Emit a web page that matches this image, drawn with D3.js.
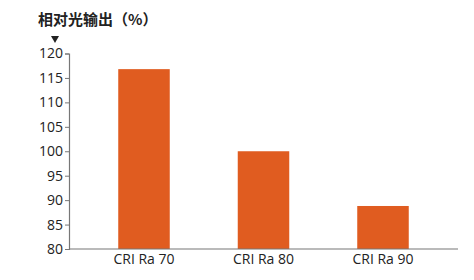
<!DOCTYPE html>
<html>
<head>
<meta charset="utf-8">
<script src="https://cdn.jsdelivr.net/npm/d3@7"></script>
<style>
  body { margin: 0; background: #fff; }
  svg text { font-family: "Open Sans", "Noto Sans", sans-serif; fill: #222; }
</style>
</head>
<body>
<div id="chart"></div>
<script>
const categories = ['CRI Ra 70', 'CRI Ra 80', 'CRI Ra 90'];
const values = [116.8, 100, 88.8];
const yTicks = [80, 85, 90, 95, 100, 105, 110, 115, 120];
const title = '相对光输出（%）';

const width = 474;
const height = 280;
const axisX = 69;
const axisY = 249;

const svg = d3.select('#chart').append('svg')
  .attr('width', width)
  .attr('height', height);

const y = d3.scaleLinear().domain([80, 120]).range([axisY, 53.5]);
const x = d3.scaleBand().domain(categories)
  .range([84.25, 442.75])
  .paddingInner(0.569)
  .paddingOuter(0.2845);

// bars
svg.append('g').selectAll('rect')
  .data(values)
  .join('rect')
  .attr('x', (d, i) => x(categories[i]))
  .attr('y', (d) => y(d))
  .attr('width', x.bandwidth())
  .attr('height', (d) => axisY - y(d))
  .attr('fill', '#E05C20');

// y axis
const yAxis = svg.append('g')
  .attr('transform', `translate(${axisX},0)`)
  .call(d3.axisLeft(y).tickValues(yTicks).tickSize(4).tickPadding(2));
yAxis.select('.domain').attr('stroke', '#777').attr('stroke-width', 1.2);
yAxis.selectAll('.tick line').attr('stroke', '#777');
yAxis.selectAll('.tick text').attr('font-size', 14).style('fill', '#222');

// x axis line
svg.append('line')
  .attr('x1', axisX).attr('x2', 458)
  .attr('y1', axisY).attr('y2', axisY)
  .attr('stroke', '#777').attr('stroke-width', 1.2);

// x labels
svg.append('g').selectAll('text')
  .data(categories)
  .join('text')
  .attr('x', (d) => x(d) + x.bandwidth() / 2)
  .attr('y', 264)
  .attr('text-anchor', 'middle')
  .attr('font-size', 14)
  .text((d) => d);

// title + arrow
svg.append('text')
  .attr('x', 38).attr('y', 25)
  .attr('font-size', 15)
  .attr('font-weight', 700)
  .style('font-family', '"Noto Sans CJK SC", sans-serif')
  .text(title);

svg.append('path')
  .attr('d', 'M 51 36 L 59 36 L 55 43 Z')
  .attr('fill', '#222');
</script>
</body>
</html>
